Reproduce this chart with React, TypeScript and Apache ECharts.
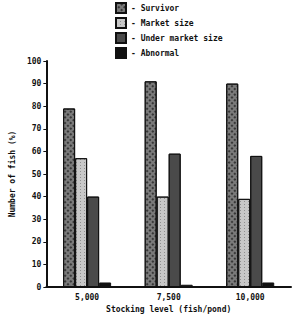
import React, { useEffect, useRef } from "react";
import * as echarts from "echarts";

const categories = ["5,000", "7,500", "10,000"];
const seriesNames = ["Survivor", "Market size", "Under market size", "Abnormal"];
const survivor = [79, 91, 90];
const marketSize = [57, 40, 39];
const underMarket = [40, 59, 58];
const abnormal = [2, 1, 2];
const yTicks = { min: 0, max: 100, interval: 10 };

const FONT = "'DejaVu Sans Mono', 'Liberation Mono', monospace";

export default function App() {
  const ref = useRef<HTMLDivElement>(null);
  useEffect(() => {
    if (!ref.current) return;
    const chart = echarts.init(ref.current, null, { renderer: "svg" });
    const styles = [
      { color: "#7a7a7a", decal: { symbol: "rect", symbolSize: 1, color: "rgba(0,0,0,0.55)", dashArrayX: [2, 2], dashArrayY: [2, 2], rotation: 0.785 } },
      { color: "#c8c8c8", decal: { symbol: "rect", symbolSize: 0.8, color: "rgba(60,60,60,0.5)", dashArrayX: [1, 3], dashArrayY: [1, 2] } },
      { color: "#4a4a4a", decal: { symbol: "circle", symbolSize: 0.9, color: "rgba(230,230,230,0.55)", dashArrayX: [1, 3], dashArrayY: [2, 3], rotation: 0.5 } },
      { color: "#111111" },
    ];
    const data = [survivor, marketSize, underMarket, abnormal];
    chart.setOption({
      animation: false,
      textStyle: { fontFamily: FONT },
      legend: {
        orient: "vertical",
        left: 115,
        top: 2,
        padding: 0,
        itemWidth: 10,
        itemHeight: 10,
        itemGap: 3,
        icon: "rect",
        selectedMode: false,
        formatter: (n: string) => "- " + n,
        textStyle: { fontFamily: FONT, fontSize: 8, fontWeight: "bold", color: "#111" },
        data: seriesNames,
      },
      grid: { left: 40, right: 9, top: 61, bottom: 37, containLabel: false },
      xAxis: {
        type: "category",
        data: categories,
        name: "Stocking level (fish/pond)",
        nameLocation: "middle",
        nameGap: 16,
        nameTextStyle: { fontFamily: FONT, fontSize: 8, fontWeight: "bold", color: "#111" },
        axisLine: { lineStyle: { color: "#111", width: 2 } },
        axisTick: { show: false },
        axisLabel: { fontFamily: FONT, fontSize: 8, fontWeight: "bold", color: "#111", margin: 6 },
      },
      yAxis: {
        type: "value",
        min: yTicks.min,
        max: yTicks.max,
        interval: yTicks.interval,
        name: "Number of fish (%)",
        nameLocation: "middle",
        nameGap: 24,
        nameRotate: 90,
        nameTextStyle: { fontFamily: FONT, fontSize: 8, fontWeight: "bold", color: "#111" },
        axisLine: { show: true, lineStyle: { color: "#111", width: 2 } },
        axisTick: { show: true, length: 3, lineStyle: { color: "#111" } },
        splitLine: { show: false },
        axisLabel: { fontFamily: FONT, fontSize: 8, fontWeight: "bold", color: "#111", margin: 5 },
      },
      series: seriesNames.map((name, i) => ({
        name,
        type: "bar",
        data: data[i],
        barWidth: 12,
        barGap: "0%",
        itemStyle: {
          color: styles[i].color,
          decal: (styles[i] as any).decal,
          borderColor: "#111",
          borderWidth: 1,
        },
      })),
    });
    return () => chart.dispose();
  }, []);
  return <div ref={ref} style={{ width: 300, height: 324, position: "absolute", left: 0, top: 0, background: "#fff" }} />;
}
